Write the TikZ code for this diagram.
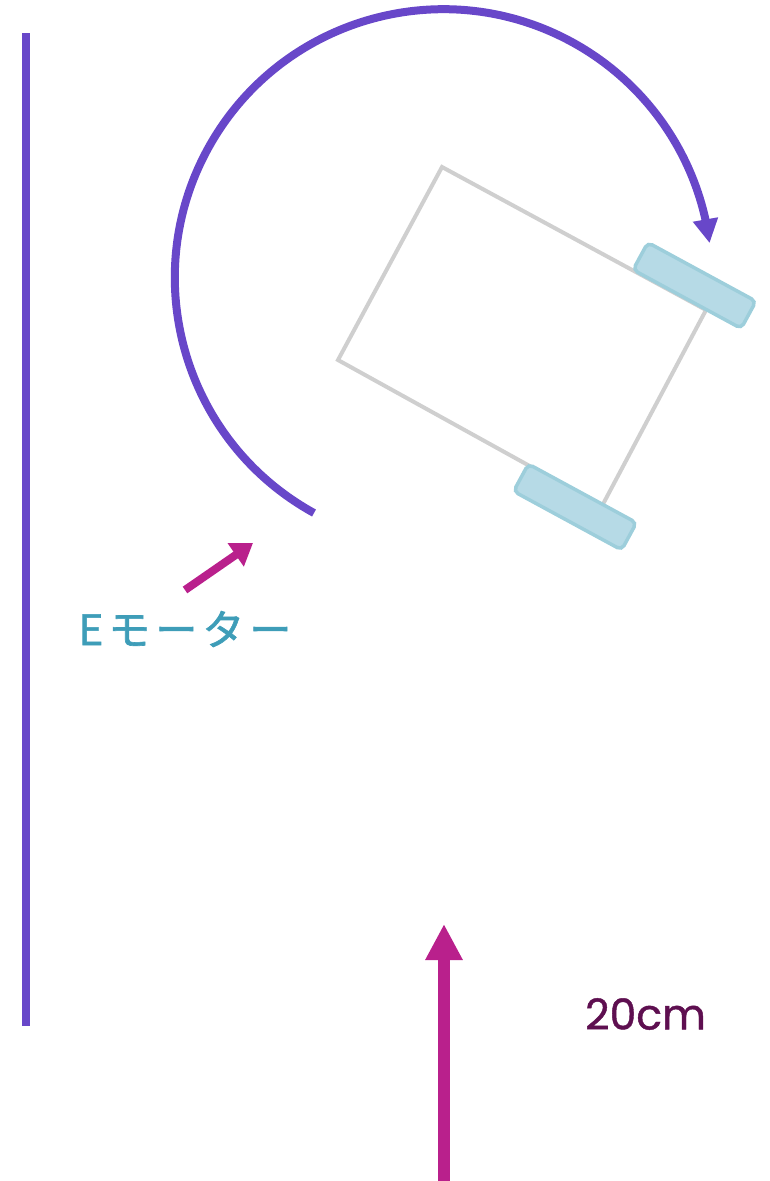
\documentclass[tikz,border=0pt]{standalone}
\usepackage{fontspec}
\setmainfont[FakeBold=1]{Poppins}
\newfontfamily\jpfont[LetterSpace=12,FakeBold=1.5]{Noto Sans CJK JP}
\usetikzlibrary{arrows.meta,bending}
\definecolor{purpleline}{HTML}{6847C9}
\definecolor{magentaline}{HTML}{B9208C}
\definecolor{tealtext}{HTML}{3E9DB8}
\definecolor{wheelfill}{HTML}{B6DAE6}
\definecolor{wheeledge}{HTML}{9DCEDB}
\definecolor{bodyedge}{HTML}{CFCFCF}
\definecolor{darklabel}{HTML}{5E0F50}
\tikzset{
  wheelbox/.style={draw=wheeledge,fill=wheelfill,line width=3.5pt,rounded corners=5pt,
    minimum width=123pt,minimum height=31pt,inner sep=0pt,rotate=-28.5},
  purplepath/.style={draw=purpleline,line width=8pt},
  bigarrow/.style={draw=magentaline,line width=12pt,-{Triangle[length=36pt,width=35pt]}},
  smallarrow/.style={draw=magentaline,line width=8pt,-{Triangle[length=21pt,width=27pt]}},
}
\begin{document}
\begin{tikzpicture}[x=1pt,y=-1pt]
\useasboundingbox (0,0) rectangle (769,1181);
% wall
\coordinate (walltop) at (26,33);
\coordinate (wallbottom) at (26,1026);
\draw[purplepath] (walltop) -- (wallbottom);
% body
\coordinate (ba) at (442,167);
\coordinate (bb) at (338,360);
\coordinate (bc) at (602,506);
\coordinate (bd) at (706,310);
\draw[bodyedge,line width=4pt] (ba) -- (bb) -- (bc) -- (bd) -- cycle;
% wheels
\node[wheelbox] (wheelone) at (694.5,285.5) {};
\node[wheelbox] (wheeltwo) at (575,507) {};
% path arc
\coordinate (arcstart) at (314,513);
\draw[purplepath,-{Triangle[length=24pt,width=24pt,flex=1]}] (arcstart) arc[start angle=241.2,delta angle=-233.8,radius=268.5pt];
% small arrow and label
\coordinate (sa) at (185,590);
\coordinate (sb) at (253,543);
\draw[smallarrow] (sa) -- (sb);
\node[text=tealtext,font=\jpfont\fontsize{42pt}{46pt}\selectfont,inner sep=0pt,anchor=center] (motor) at (185,629) {Eモーター};
% big arrow and label
\coordinate (ta) at (444,1181);
\coordinate (tb) at (444,924);
\draw[bigarrow] (ta) -- (tb);
\node[text=darklabel,font=\fontsize{42.5pt}{46pt}\selectfont,inner sep=0pt] (dist) at (645.5,1014) {20cm};
\end{tikzpicture}
\end{document}
